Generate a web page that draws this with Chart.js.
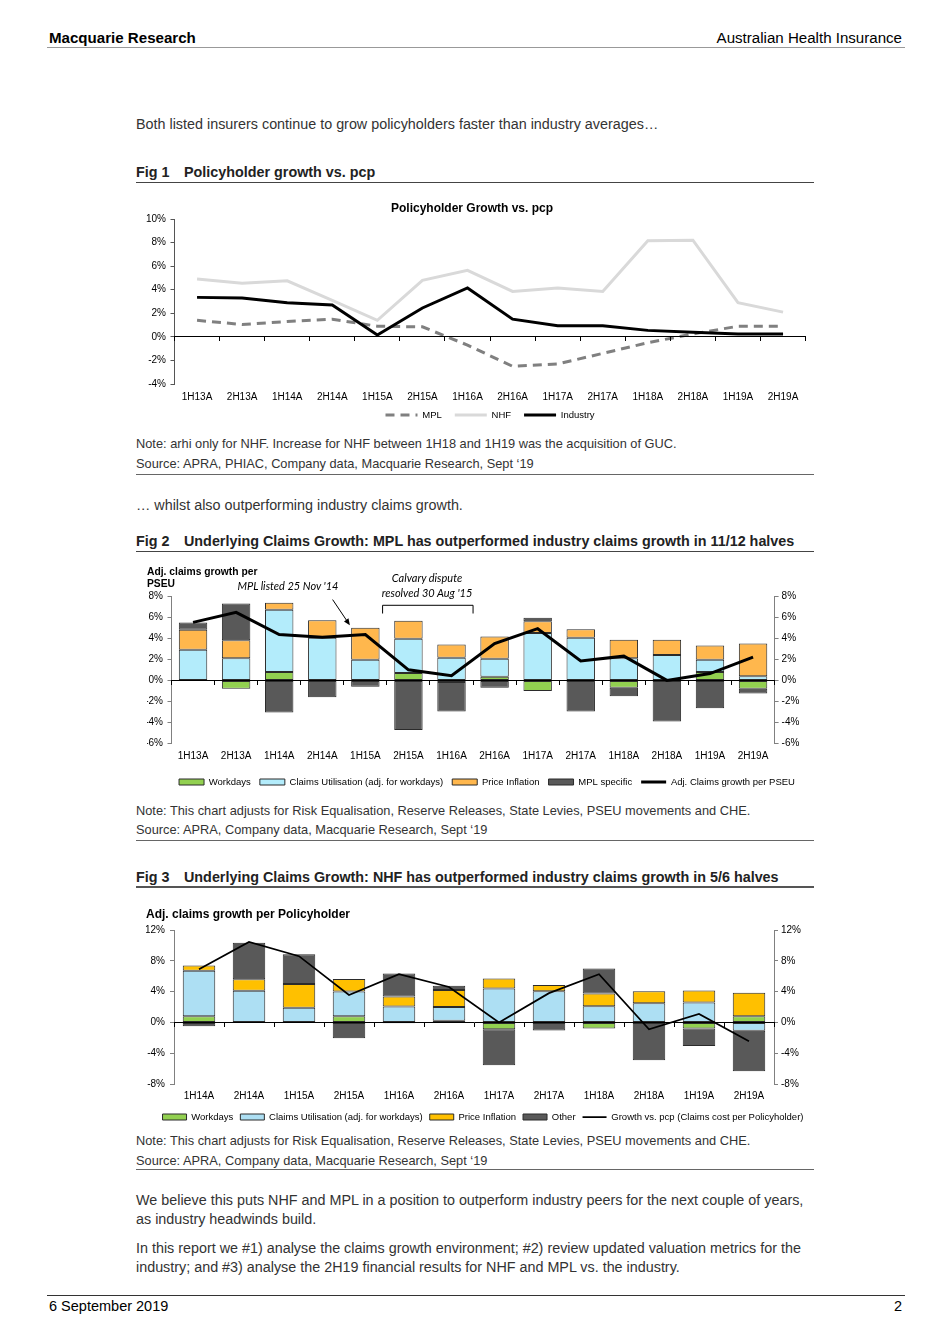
<!DOCTYPE html>
<html><head><meta charset="utf-8">
<script src="https://cdn.jsdelivr.net/npm/chart.js@4.4.1/dist/chart.umd.min.js"></script>
<style>
html,body{margin:0;padding:0;background:#fff;}
body{width:950px;height:1344px;position:relative;overflow:hidden;font-family:'Liberation Sans',Arial,Helvetica,sans-serif;color:#333;}
.t{position:absolute;white-space:nowrap;line-height:16px;}
.b{font-weight:bold;color:#222;font-size:14.35px;}
.n{font-size:12.8px;color:#333;}
.p{font-size:14.35px;color:#333;}
.hr{position:absolute;height:0;}
.fig{display:inline-block;width:48px;}
.ann{position:absolute;white-space:nowrap;font-family:Lato,'Liberation Sans',sans-serif;font-style:italic;font-size:11px;color:#000;text-align:center;line-height:14px;}
canvas{position:absolute;}
</style></head><body>

<div class="t" style="left:49px;top:30px;font-size:15.1px;font-weight:bold;color:#000">Macquarie Research</div>
<div class="t" style="right:48px;top:30px;font-size:15.1px;color:#000">Australian Health Insurance</div>
<div class="hr" style="left:47px;top:47px;width:858px;border-top:1.5px solid #999"></div>

<div class="t p" style="left:136px;top:116px">Both listed insurers continue to grow policyholders faster than industry averages…</div>
<div class="t b" style="left:136px;top:164px"><span class="fig">Fig 1</span>Policyholder growth vs. pcp</div>
<div class="hr" style="left:136px;top:182px;width:678px;border-top:1px solid #444"></div>

<canvas id="c1" width="698" height="235" style="left:130px;top:195px;width:698px;height:235px"></canvas>

<div class="t n" style="left:136px;top:436px">Note: arhi only for NHF. Increase for NHF between 1H18 and 1H19 was the acquisition of GUC.</div>
<div class="t n" style="left:136px;top:456px">Source: APRA, PHIAC, Company data, Macquarie Research, Sept ‘19</div>
<div class="hr" style="left:136px;top:474px;width:678px;border-top:1.5px solid #666"></div>

<div class="t p" style="left:136px;top:497px">… whilst also outperforming industry claims growth.</div>
<div class="t b" style="left:136px;top:533px"><span class="fig">Fig 2</span>Underlying Claims Growth: MPL has outperformed industry claims growth in 11/12 halves</div>
<div class="hr" style="left:136px;top:551px;width:678px;border-top:1px solid #444"></div>

<canvas id="c2" width="687" height="240" style="left:140px;top:560px;width:687px;height:240px"></canvas>
<div class="ann" style="left:228px;top:579px;width:120px">MPL listed 25 Nov '14</div>
<div class="ann" style="left:367px;top:571px;width:120px">Calvary dispute</div>
<div class="ann" style="left:367px;top:586px;width:120px">resolved 30 Aug '15</div>

<div class="t n" style="left:136px;top:803px">Note: This chart adjusts for Risk Equalisation, Reserve Releases, State Levies, PSEU movements and CHE.</div>
<div class="t n" style="left:136px;top:822px">Source: APRA, Company data, Macquarie Research, Sept ‘19</div>
<div class="hr" style="left:136px;top:840px;width:678px;border-top:1.5px solid #666"></div>

<div class="t b" style="left:136px;top:869px"><span class="fig">Fig 3</span>Underlying Claims Growth: NHF has outperformed industry claims growth in 5/6 halves</div>
<div class="hr" style="left:136px;top:886px;width:678px;border-top:2px solid #555"></div>

<canvas id="c3" width="680" height="232" style="left:140px;top:900px;width:680px;height:232px"></canvas>

<div class="t n" style="left:136px;top:1133px">Note: This chart adjusts for Risk Equalisation, Reserve Releases, State Levies, PSEU movements and CHE.</div>
<div class="t n" style="left:136px;top:1153px">Source: APRA, Company data, Macquarie Research, Sept ‘19</div>
<div class="hr" style="left:136px;top:1169px;width:678px;border-top:1.5px solid #666"></div>

<div class="t p" style="left:136px;top:1192px">We believe this puts NHF and MPL in a position to outperform industry peers for the next couple of years,</div>
<div class="t p" style="left:136px;top:1211px">as industry headwinds build.</div>
<div class="t p" style="left:136px;top:1240px">In this report we #1) analyse the claims growth environment; #2) review updated valuation metrics for the</div>
<div class="t p" style="left:136px;top:1259px">industry; and #3) analyse the 2H19 financial results for NHF and MPL vs. the industry.</div>

<div class="hr" style="left:47px;top:1295px;width:858px;border-top:1px solid #333"></div>
<div class="t" style="left:49px;top:1298px;font-size:14.5px;color:#000">6 September 2019</div>
<div class="t" style="right:48px;top:1298px;font-size:14.5px;color:#000">2</div>

<script>
// ---------- Fig 1 data ----------
const fig1Labels = ['1H13A','2H13A','1H14A','2H14A','1H15A','2H15A','1H16A','2H16A','1H17A','2H17A','1H18A','2H18A','1H19A','2H19A'];
const mplGrowth = [1.4, 1.05, 1.3, 1.5, 0.9, 0.85, -0.7, -2.5, -2.3, -1.4, -0.5, 0.25, 0.9, 0.9];
const nhfGrowth = [4.9, 4.55, 4.75, 3.1, 1.4, 4.8, 5.65, 3.85, 4.15, 3.85, 8.15, 8.2, 2.9, 2.1];
const industryGrowth = [3.35, 3.3, 2.9, 2.7, 0.15, 2.45, 4.15, 1.5, 0.95, 0.95, 0.55, 0.4, 0.25, 0.25];
const fig1Axis = [-4, 10, 2];

// ---------- Fig 2 data ----------
const fig2Labels = ['1H13A','2H13A','1H14A','2H14A','1H15A','2H15A','1H16A','2H16A','1H17A','2H17A','1H18A','2H18A','1H19A','2H19A'];
const workdays2 = [null, -0.8, 0.8, null, null, 0.7, -0.15, 0.35, -1.0, null, -0.7, null, 0.8, -0.8];
const claimsUtil2 = [2.9, 2.1, 5.9, 4.05, 1.95, 3.25, 2.15, 1.7, 4.5, 4.05, 2.1, 2.4, 1.15, 0.4];
const priceInfl2 = [1.9, 1.7, 0.65, 1.65, 3.05, 1.7, 1.25, 2.1, 1.1, 0.8, 1.75, 1.45, 1.35, 3.1];
const mplSpecific2 = [0.7, 3.5, -3.05, -1.6, -0.6, -4.7, -2.8, -0.7, 0.35, -2.95, -0.8, -3.9, -2.65, -0.45];
const adjClaims2 = [5.5, 6.45, 4.35, 4.1, 4.35, 1.0, 0.45, 3.5, 4.9, 1.85, 2.3, 0.0, 0.65, 2.2];
const fig2Axis = [-6, 8, 2];
// annotation anchors (category index, value)
const arrowFrom = [3.24, 7.66], arrowTo = [3.64, 5.23];
const bracketSpan = [4.4, 6.5], bracketLevels = [7.12, 6.34];

// ---------- Fig 3 data ----------
const fig3Labels = ['1H14A','2H14A','1H15A','2H15A','1H16A','2H16A','1H17A','2H17A','1H18A','2H18A','1H19A','2H19A'];
const workdays3 = [0.8, null, null, 0.8, -0.1, 0.2, -0.9, null, -0.8, null, -0.8, 0.8];
const claimsUtil3 = [5.9, 4.1, 1.9, 3.2, 2.05, 1.8, 4.4, 4.05, 2.1, 2.5, 2.6, -1.1];
const priceInfl3 = [0.7, 1.5, 3.1, 1.65, 1.3, 2.2, 1.3, 0.8, 1.65, 1.55, 1.55, 3.05];
const other3 = [-0.5, 4.75, 3.85, -2.05, 3.0, 0.55, -4.65, -1.05, 3.25, -4.9, -2.25, -5.25];
const growth3 = [6.9, 10.45, 8.6, 3.55, 6.25, 4.6, 0.0, 3.8, 6.25, -0.9, 1.1, -2.45];
const fig3Axis = [-8, 12, 4];

Chart.defaults.font.family = "'Liberation Sans', Arial, sans-serif";
Chart.defaults.font.size = 10;
Chart.defaults.color = '#000';
Chart.defaults.animation = false;

const pct = v => v + '%';

function legendLabels(chart) {
  const items = Chart.defaults.plugins.legend.labels.generateLabels(chart);
  items.forEach(it => {
    const ds = chart.data.datasets[it.datasetIndex];
    const isLine = (ds.type || chart.config.type) === 'line';
    it.pointStyle = isLine ? 'line' : 'rect';
    it.lineWidth = ds.borderWidth != null ? ds.borderWidth : 1;
    it.lineDash = ds.borderDash || [];
    it.strokeStyle = ds.borderColor;
    it.fillStyle = isLine ? ds.borderColor : ds.backgroundColor;
  });
  return items;
}

function legendOpts(pw, bh, pad, fullSize) {
  return {
    position: 'bottom', fullSize: fullSize,
    labels: {
      usePointStyle: true, pointStyleWidth: pw, boxHeight: bh, padding: pad,
      font: {size: 9.5}, color: '#000',
      generateLabels: legendLabels,
      sort: (a, b) => a.datasetIndex - b.datasetIndex
    }
  };
}

function zeroAxis(labels) {
  return {
    type: 'category', axis: 'x', labels: labels, position: {y: 0}, offset: true,
    grid: {display: true, offset: true, drawOnChartArea: false, drawTicks: true, tickLength: 4, color: '#000', z: 1},
    border: {display: true, color: '#000', width: 1, z: 1},
    ticks: {display: false}
  };
}

function yAxis(rng, pos, pad, w, show) {
  return {
    type: 'linear', axis: 'y', position: pos, min: rng[0], max: rng[1],
    ticks: {display: show, stepSize: rng[2], padding: pad, callback: pct},
    grid: {display: show, drawOnChartArea: false, tickLength: 4, color: '#808080'},
    border: {display: show, color: '#808080'},
    afterFit: s => { s.width = w; }
  };
}

function xAxis(pad, h, stacked) {
  return {
    type: 'category', position: 'bottom', offset: true, stacked: stacked,
    grid: {display: false, drawTicks: false}, border: {display: false},
    ticks: {padding: pad, maxRotation: 0, autoSkip: false},
    afterFit: s => { s.height = h; s._computeLabelArea = () => undefined; }
  };
}

// ---------- Fig 1 ----------
new Chart(document.getElementById('c1'), {
  type: 'line',
  data: {
    labels: fig1Labels,
    datasets: [
      {label: 'MPL', data: mplGrowth, borderColor: '#808080', backgroundColor: '#808080', borderWidth: 3, borderDash: [9, 6], pointRadius: 0, tension: 0, order: 0},
      {label: 'NHF', data: nhfGrowth, borderColor: '#D9D9D9', backgroundColor: '#D9D9D9', borderWidth: 3, pointRadius: 0, tension: 0, order: 1},
      {label: 'Industry', data: industryGrowth, borderColor: '#000', backgroundColor: '#000', borderWidth: 3, pointRadius: 0, tension: 0, order: -1}
    ]
  },
  options: {
    responsive: false, animation: false,
    layout: {padding: {left: 0, right: 14, top: 0, bottom: 0.25}},
    plugins: {
      title: {display: true, text: 'Policyholder Growth vs. pcp', color: '#000', font: {size: 12, weight: 'bold'}, padding: {top: 6.8, bottom: 2.8}},
      legend: legendOpts(32, 9.5, 13, false),
      tooltip: {enabled: false}
    },
    scales: {
      x: xAxis(7, 13.25, false),
      x0: zeroAxis(fig1Labels),
      y: (() => { const a = yAxis(fig1Axis, 'left', 4.5, 44.5, true); a.grid.color = '#555'; a.border.color = '#555'; return a; })(),
      yR: yAxis(fig1Axis, 'right', 0, 8.4, false)
    }
  }
});

// ---------- Fig 2 ----------
const bar2 = {borderColor: '#2b2b2b', borderWidth: 1, borderSkipped: false, barPercentage: 0.66, categoryPercentage: 1, stack: 'bars'};
const annotPlugin = {
  id: 'fig2Annot',
  afterDatasetsDraw(chart) {
    const {ctx} = chart, x = chart.scales.x, y = chart.scales.y;
    ctx.save();
    ctx.strokeStyle = '#000'; ctx.fillStyle = '#000'; ctx.lineWidth = 1;
    const x1 = x.getPixelForValue(arrowFrom[0]), y1 = y.getPixelForValue(arrowFrom[1]);
    const x2 = x.getPixelForValue(arrowTo[0]), y2 = y.getPixelForValue(arrowTo[1]);
    const ang = Math.atan2(y2 - y1, x2 - x1), hl = 7;
    ctx.beginPath(); ctx.moveTo(x1, y1);
    ctx.lineTo(x2 - Math.cos(ang) * hl * 0.8, y2 - Math.sin(ang) * hl * 0.8); ctx.stroke();
    ctx.beginPath(); ctx.moveTo(x2, y2);
    ctx.lineTo(x2 - hl * Math.cos(ang - 0.4), y2 - hl * Math.sin(ang - 0.4));
    ctx.lineTo(x2 - hl * Math.cos(ang + 0.4), y2 - hl * Math.sin(ang + 0.4));
    ctx.closePath(); ctx.fill();
    const bl = x.getPixelForValue(bracketSpan[0]), br = x.getPixelForValue(bracketSpan[1]);
    const bt = y.getPixelForValue(bracketLevels[0]), bb = y.getPixelForValue(bracketLevels[1]);
    ctx.beginPath();
    ctx.moveTo(bl, bb); ctx.lineTo(bl, bt); ctx.lineTo(br, bt); ctx.lineTo(br, bb);
    ctx.stroke();
    ctx.restore();
  }
};

new Chart(document.getElementById('c2'), {
  type: 'bar',
  data: {
    labels: fig2Labels,
    datasets: [
      Object.assign({label: 'Workdays', data: workdays2, backgroundColor: '#92D050'}, bar2),
      Object.assign({label: 'Claims Utilisation (adj. for workdays)', data: claimsUtil2, backgroundColor: '#B3ECFB'}, bar2),
      Object.assign({label: 'Price Inflation', data: priceInfl2, backgroundColor: '#FFB74D'}, bar2),
      Object.assign({label: 'MPL specific', data: mplSpecific2, backgroundColor: '#595959'}, bar2),
      {type: 'line', label: 'Adj. Claims growth per PSEU', data: adjClaims2, borderColor: '#000', backgroundColor: '#000', borderWidth: 3, pointRadius: 0, tension: 0, stack: 'line', order: -1}
    ]
  },
  options: {
    responsive: false, animation: false,
    layout: {padding: {left: 7, right: 0, top: 0, bottom: 3.25}},
    plugins: {
      title: {display: true, align: 'start', text: ['Adj. claims growth per', 'PSEU'], color: '#000', font: {size: 10.3, weight: 'bold', lineHeight: '12px'}, padding: {top: 6.5, bottom: 5.5}},
      legend: legendOpts(25, 6, 9, true),
      tooltip: {enabled: false}
    },
    scales: {
      x: xAxis(6.3, 24.55, true),
      x0: zeroAxis(fig2Labels),
      y: Object.assign(yAxis(fig2Axis, 'left', 4.5, 24.5, true), {stacked: true}),
      yR: yAxis(fig2Axis, 'right', 3, 52.4, true)
    }
  },
  plugins: [annotPlugin]
});

// ---------- Fig 3 ----------
const bar3 = {borderColor: '#2b2b2b', borderWidth: 1, borderSkipped: false, barPercentage: 0.65, categoryPercentage: 1, stack: 'bars'};
new Chart(document.getElementById('c3'), {
  type: 'bar',
  data: {
    labels: fig3Labels,
    datasets: [
      Object.assign({label: 'Workdays', data: workdays3, backgroundColor: '#92D050'}, bar3),
      Object.assign({label: 'Claims Utilisation (adj. for workdays)', data: claimsUtil3, backgroundColor: '#ADDFF3'}, bar3),
      Object.assign({label: 'Price Inflation', data: priceInfl3, backgroundColor: '#FFC000'}, bar3),
      Object.assign({label: 'Other', data: other3, backgroundColor: '#595959'}, bar3),
      {type: 'line', label: 'Growth vs. pcp (Claims cost per Policyholder)', data: growth3, borderColor: '#000', backgroundColor: '#000', borderWidth: 1.75, pointRadius: 0, tension: 0, stack: 'line', order: -1}
    ]
  },
  options: {
    responsive: false, animation: false,
    layout: {padding: {left: 6, right: 0, top: 0, bottom: 0.25}},
    plugins: {
      title: {display: true, align: 'start', text: 'Adj. claims growth per Policyholder', color: '#000', font: {size: 12, weight: 'bold'}, padding: {top: 7.8, bottom: 7.8}},
      legend: legendOpts(24, 6, 7, true),
      tooltip: {enabled: false}
    },
    scales: {
      x: xAxis(6.3, 21.25, true),
      x0: zeroAxis(fig3Labels),
      y: Object.assign(yAxis(fig3Axis, 'left', 5, 28, true), {stacked: true}),
      yR: yAxis(fig3Axis, 'right', 3, 46, true)
    }
  }
});
</script>
</body></html>
